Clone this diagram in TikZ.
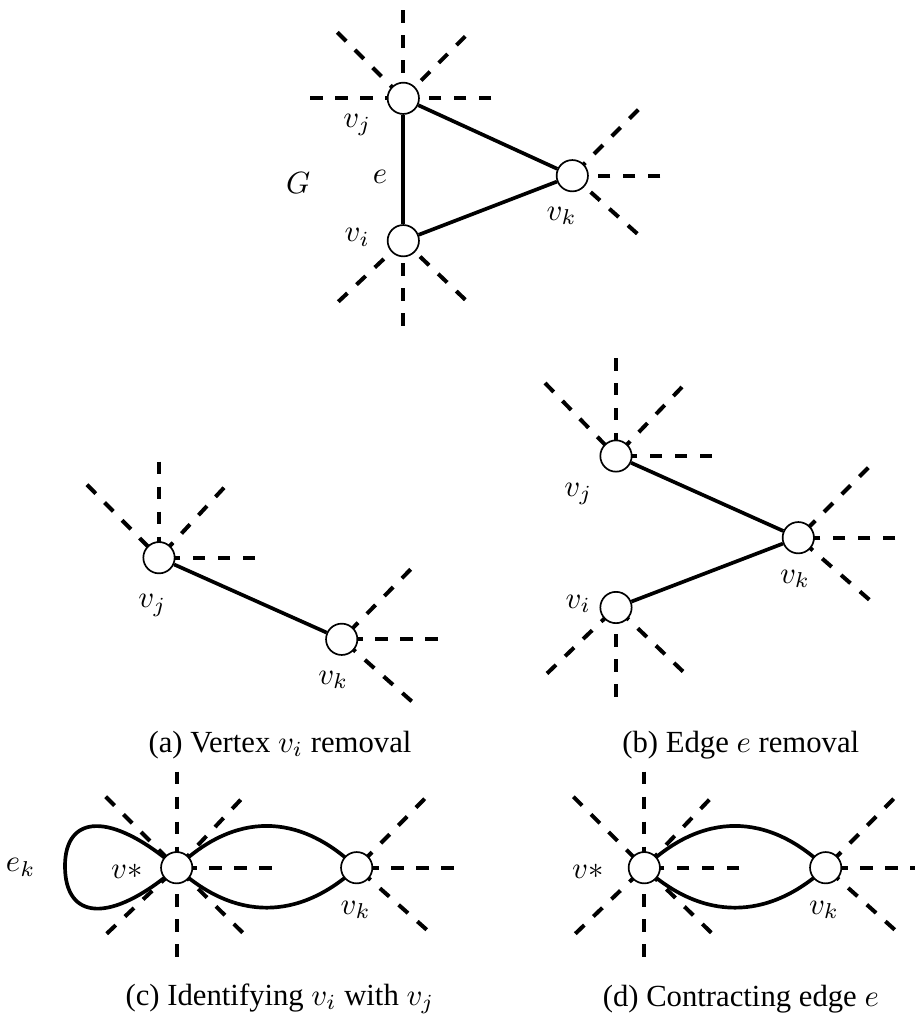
\documentclass[tikz,border=0pt]{standalone}
\usepackage{fontspec}
\setmainfont{Liberation Serif}
\pgfdeclarelayer{bg}
\pgfsetlayers{bg,main}
\begin{document}
\begin{tikzpicture}[x=0.3257pt,y=-0.3257pt,
  vtx/.style={circle,draw,fill=white,line width=0.55pt,minimum size=10.2pt,inner sep=0pt},
  edgeline/.style={line width=1.2pt},
  spoke/.style={line width=1.3pt,dash pattern=on 4.07pt off 4.07pt},
  lbl/.style={inner sep=0pt},
  captxt/.style={inner sep=0pt,anchor=base}]
\useasboundingbox (0,0) rectangle (915,1019);

% ---------- top graph G ----------
\node[vtx] (tj) at (403.3,98.3) {};
\node[vtx] (ti) at (403.3,240.7) {};
\node[vtx] (tk) at (572.3,175.7) {};
\node[lbl] (lG) at (298.3,182.7) {$G$};
\node[lbl] (le) at (380,176.7) {$e$};
\node[lbl] (ltj) at (357.3,125) {$v_j$};
\node[lbl] (lti) at (357.3,237.3) {$v_i$};
\node[lbl] (ltk) at (561.7,216) {$v_k$};
\begin{pgfonlayer}{bg}
\draw[edgeline] (tj) -- (ti);
\draw[edgeline] (tj) -- (tk);
\draw[edgeline] (ti) -- (tk);
\foreach \dx/\dy in {0/-88,-66/-66,62/-62,-93/0,88/0}
  \draw[spoke] (tj.center) ++(\dx,\dy) -- (tj.center);
\foreach \dx/\dy in {-65/61,0/85,62/59}
  \draw[spoke] (ti.center) ++(\dx,\dy) -- (ti.center);
\foreach \dx/\dy in {66/-66,88/0,65/58}
  \draw[spoke] (tk.center) ++(\dx,\dy) -- (tk.center);
\end{pgfonlayer}

% ---------- (a) ----------
\node[vtx] (aj) at (159,557.7) {};
\node[vtx] (ak) at (341.7,639.3) {};
\node[lbl] (laj) at (152.3,605.7) {$v_j$};
\node[lbl] (lak) at (333.3,680) {$v_k$};
\begin{pgfonlayer}{bg}
\draw[edgeline] (aj) -- (ak);
\foreach \dx/\dy in {0/-96,-72/-73,65/-70,96/0}
  \draw[spoke] (aj.center) ++(\dx,\dy) -- (aj.center);
\foreach \dx/\dy in {69/-70,96/0,70/62}
  \draw[spoke] (ak.center) ++(\dx,\dy) -- (ak.center);
\end{pgfonlayer}
\node[captxt] (capa) at (280,752) {(a) Vertex $v_i$ removal};

% ---------- (b) ----------
\node[vtx] (bj) at (616,456) {};
\node[vtx] (bk) at (798.3,537.7) {};
\node[vtx] (bi) at (616,607.5) {};
\node[lbl] (lbj) at (578.3,494) {$v_j$};
\node[lbl] (lbk) at (795,579) {$v_k$};
\node[lbl] (lbi) at (578.3,604) {$v_i$};
\begin{pgfonlayer}{bg}
\draw[edgeline] (bj) -- (bk);
\draw[edgeline] (bi) -- (bk);
\foreach \dx/\dy in {0/-98,-71/-73,66/-69,96/0}
  \draw[spoke] (bj.center) ++(\dx,\dy) -- (bj.center);
\foreach \dx/\dy in {70/-70,97/0,71/62}
  \draw[spoke] (bk.center) ++(\dx,\dy) -- (bk.center);
\foreach \dx/\dy in {-69/66,0/89,67/64}
  \draw[spoke] (bi.center) ++(\dx,\dy) -- (bi.center);
\end{pgfonlayer}
\node[captxt] (capb) at (740.8,752) {(b) Edge $e$ removal};

% ---------- (c) ----------
\node[vtx] (cs) at (176.7,867.7) {};
\node[vtx] (ck) at (356.7,867.7) {};
\node[lbl] (lek) at (20.7,867.3) {$e_k$};
\node[lbl] (lcs) at (126.7,871.7) {$v*$};
\node[lbl] (lck) at (355.7,910) {$v_k$};
\begin{pgfonlayer}{bg}
\draw[edgeline] (cs.center) .. controls (110,810) and (65,815) .. (65,866)
  .. controls (65,920) and (110,925) .. (cs.center);
\draw[edgeline] (cs.center) .. controls (234.7,812) and (298.7,812) .. (ck.center);
\draw[edgeline] (cs.center) .. controls (234.7,921) and (298.7,921) .. (ck.center);
\foreach \dx/\dy in {0/-96,-71/-71,64/-68,95/0,-70/66,0/89,66/65}
  \draw[spoke] (cs.center) ++(\dx,\dy) -- (cs.center);
\foreach \dx/\dy in {68/-69,97/0,70/62}
  \draw[spoke] (ck.center) ++(\dx,\dy) -- (ck.center);
\end{pgfonlayer}
\node[captxt] (capc) at (280,1005) {(c) Identifying $v_i$ with $v_j$};

% ---------- (d) ----------
\node[vtx] (ds) at (644.3,867.7) {};
\node[vtx] (dk) at (825.7,867.7) {};
\node[lbl] (lds) at (587.7,871.7) {$v*$};
\node[lbl] (ldk) at (824,910) {$v_k$};
\begin{pgfonlayer}{bg}
\draw[edgeline] (ds.center) .. controls (702.3,812) and (767.7,812) .. (dk.center);
\draw[edgeline] (ds.center) .. controls (702.3,921) and (767.7,921) .. (dk.center);
\foreach \dx/\dy in {0/-96,-71/-71,65/-68,95/0,-69/66,0/89,67/65}
  \draw[spoke] (ds.center) ++(\dx,\dy) -- (ds.center);
\foreach \dx/\dy in {68/-69,97/0,69/62}
  \draw[spoke] (dk.center) ++(\dx,\dy) -- (dk.center);
\end{pgfonlayer}
\node[captxt] (capd) at (740.8,1006) {(d) Contracting edge $e$};
\end{tikzpicture}
\end{document}
